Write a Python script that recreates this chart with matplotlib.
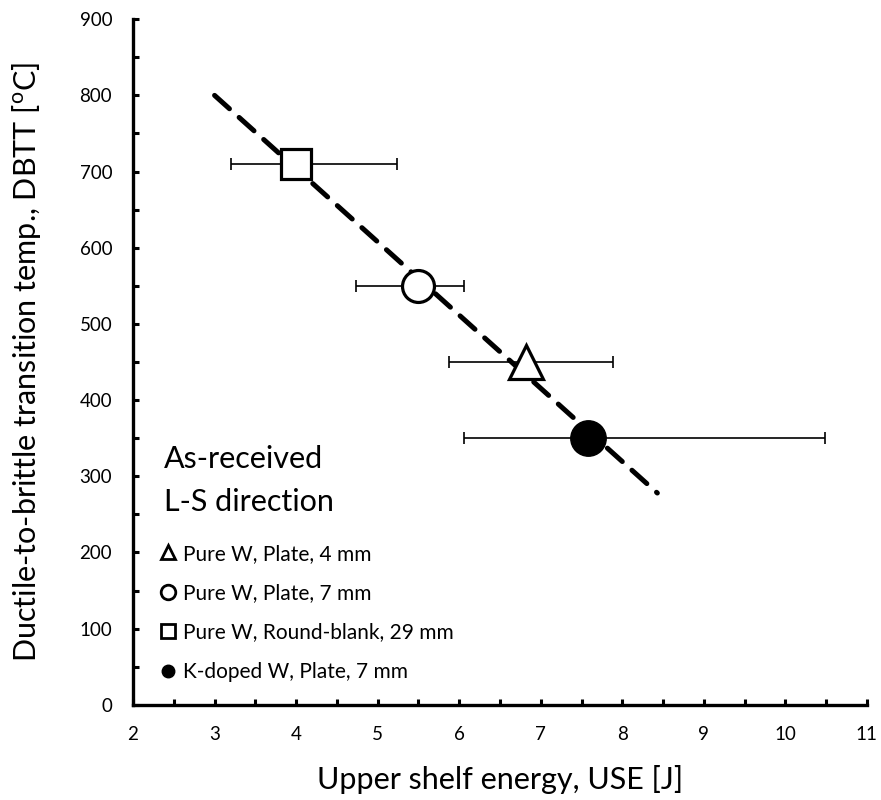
import matplotlib
matplotlib.use("Agg")
import matplotlib.pyplot as plt
from matplotlib.lines import Line2D
from matplotlib.ticker import MultipleLocator

plt.rcParams['font.family'] = ['Lato', 'DejaVu Sans']

# Data
labels = ["Pure W, Plate, 4 mm", "Pure W, Plate, 7 mm",
          "Pure W, Round-blank, 29 mm", "K-doped W, Plate, 7 mm"]
use = [6.82, 5.50, 4.00, 7.58]
dbtt = [450, 550, 710, 350]
use_min = [5.87, 4.74, 3.20, 6.06]
use_max = [7.89, 6.06, 5.24, 10.48]
fit_x = [3.0, 8.43]
fit_y = [800, 278]

markers = ['^', 'o', 's', 'o']
faces = ['white', 'white', 'white', 'black']
msizes = [24, 23, 21.5, 25.5]

fig = plt.figure(figsize=(8.81, 8.00), dpi=100)
ax = fig.add_axes([0.151, 0.119, 0.833, 0.857])

ax.plot(fit_x, fit_y, color='black', lw=3.6, ls=(0, (4, 2.6)), zorder=2,
        solid_capstyle='round', dash_capstyle='round')

for i in range(len(use)):
    lo = use[i] - use_min[i]
    hi = use_max[i] - use[i]
    ax.errorbar([use[i]], [dbtt[i]], xerr=[[lo], [hi]], fmt='none',
                ecolor='black', elinewidth=1.2, capsize=4.5, capthick=1.2,
                zorder=1)
    ax.plot([use[i]], [dbtt[i]], marker=markers[i], markersize=msizes[i],
            markerfacecolor=faces[i], markeredgecolor='black',
            markeredgewidth=2.3 if faces[i] == 'white' else 1, ls='none',
            zorder=3)

ax.set_xlim(2, 11)
ax.set_ylim(0, 900)
ax.xaxis.set_major_locator(MultipleLocator(1))
ax.xaxis.set_minor_locator(MultipleLocator(0.5))
ax.yaxis.set_major_locator(MultipleLocator(100))
ax.yaxis.set_minor_locator(MultipleLocator(50))
for s in ['top', 'right']:
    ax.spines[s].set_visible(False)
for s in ['left', 'bottom']:
    ax.spines[s].set_linewidth(2.4)
ax.tick_params(which='both', direction='in', length=4, width=2.2,
               labelsize=13.5, pad=15)

ax.set_xlabel("Upper shelf energy, USE [J]", fontsize=22, labelpad=16)
ax.set_ylabel("Ductile-to-brittle transition temp., DBTT [$\\mathregular{^{o}}$C]",
              fontsize=22)
ax.yaxis.set_label_coords(-0.1226, 0.5)

ax.text(0.042, 0.3455, "As-received", transform=ax.transAxes,
        fontsize=22, va='baseline', ha='left')
ax.text(0.042, 0.283, "L-S direction", transform=ax.transAxes,
        fontsize=22, va='baseline', ha='left')

handles = []
for i in range(len(labels)):
    handles.append(Line2D([], [], ls='none', marker=markers[i],
                          markersize=10.5 if i < 3 else 9,
                          markerfacecolor=faces[i], markeredgecolor='black',
                          markeredgewidth=2 if i < 3 else 1))
leg = ax.legend(handles, labels, loc='upper left',
                bbox_to_anchor=(0.024, 0.247), frameon=False, fontsize=15,
                handlelength=0.85, handletextpad=0.3, labelspacing=0.93,
                borderaxespad=0)

fig.savefig("out.png", dpi=100)
